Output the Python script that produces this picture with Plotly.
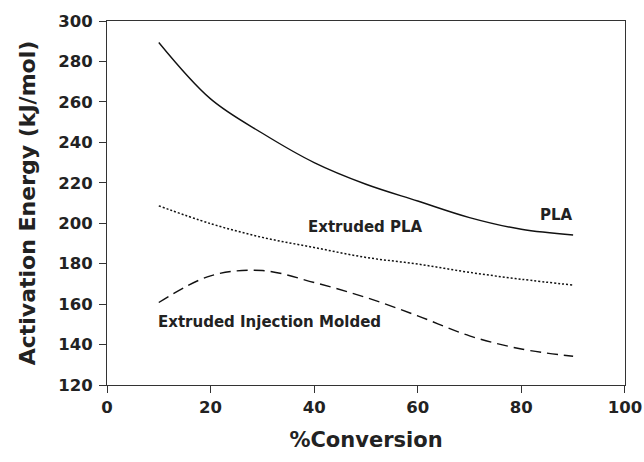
import plotly.graph_objects as go

conversion = [10, 20, 30, 40, 50, 60, 70, 80, 90]
pla = [289.4, 261.5, 244.5, 230.0, 219.3, 211.0, 202.8, 197.0, 194.2]
extruded_pla = [208.6, 199.8, 193.0, 188.0, 183.1, 179.8, 175.7, 172.3, 169.4]
extruded_im = [160.8, 174.0, 176.6, 170.7, 163.3, 154.2, 144.3, 137.8, 134.2]

labels = ["PLA", "Extruded PLA", "Extruded Injection Molded"]
label_x = [86.7, 50.0, 31.3]
label_y = [204.2, 198.3, 151.1]

x_ticks = [0, 20, 40, 60, 80, 100]
y_ticks = [120, 140, 160, 180, 200, 220, 240, 260, 280, 300]

FONT = "DejaVu Sans"

fig = go.Figure()
fig.add_trace(go.Scatter(x=conversion, y=pla, mode="lines", name="PLA",
                         line=dict(color="#111111", width=1.4, shape="spline")))
fig.add_trace(go.Scatter(x=conversion, y=extruded_pla, mode="lines", name="Extruded PLA",
                         line=dict(color="#111111", width=1.5, shape="spline", dash="2px,2px")))
fig.add_trace(go.Scatter(x=conversion, y=extruded_im, mode="lines", name="Extruded Injection Molded",
                         line=dict(color="#111111", width=1.4, shape="spline", dash="11px,6px")))

for t, xx, yy in zip(labels, label_x, label_y):
    fig.add_annotation(x=xx, y=yy, text=f"<b>{t}</b>", showarrow=False,
                       font=dict(family=FONT, size=15, color="#222222"))

axis_common = dict(showgrid=False, zeroline=False, showline=True, linecolor="#333333",
                   linewidth=1, mirror=True, ticks="outside", ticklen=7, tickwidth=1,
                   tickcolor="#333333", ticklabeloverflow="allow",
                   tickfont=dict(family=FONT, size=16.5, color="#222222", weight="bold"))

fig.update_xaxes(range=[0, 100.02], tickvals=x_ticks, ticktext=[str(v) for v in x_ticks],
                 title=dict(text="<b>%Conversion</b>", font=dict(family=FONT, size=21, color="#222222"),
                            standoff=16),
                 **axis_common)
fig.update_yaxes(range=[120, 300.02], tickvals=y_ticks, ticktext=[str(v) for v in y_ticks],
                 ticklabelstandoff=3,
                 title=dict(text="<b>Activation Energy (kJ/mol)</b>",
                            font=dict(family=FONT, size=22, color="#222222"), standoff=16),
                 **axis_common)

fig.update_layout(width=644, height=462, showlegend=False,
                  paper_bgcolor="white", plot_bgcolor="white",
                  margin=dict(l=107, r=19, t=21, b=77, autoexpand=False))

fig.write_html("out.html")
